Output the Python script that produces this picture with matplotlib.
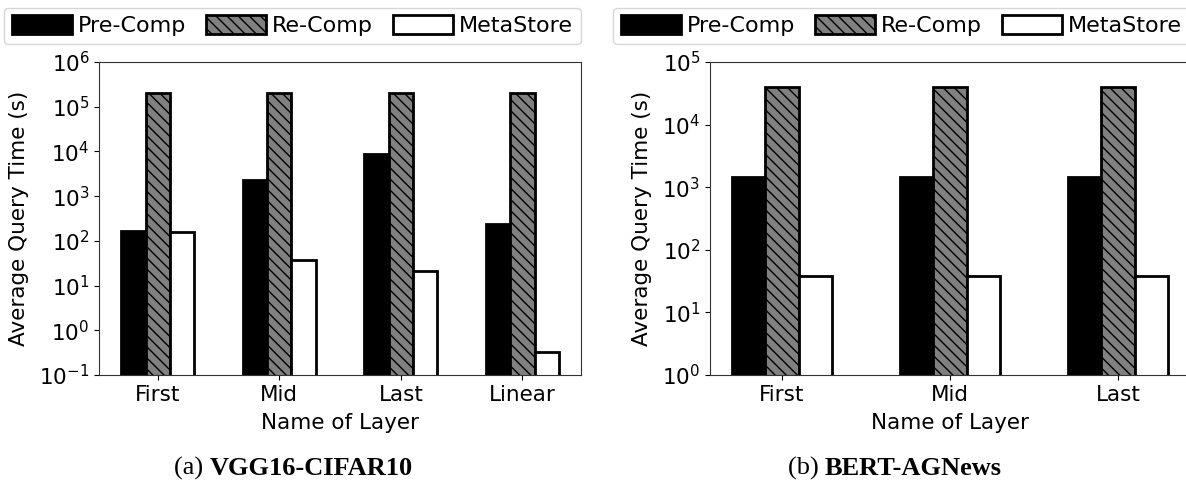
import numpy as np
import matplotlib
matplotlib.use('Agg')
import matplotlib.pyplot as plt

# VGG16-CIFAR10
vgg_layers = ['First', 'Mid', 'Last', 'Linear']
vgg_pre = [165, 2300, 8700, 235]
vgg_re = [205000, 205000, 205000, 205000]
vgg_meta = [155, 38, 21.5, 0.32]

# BERT-AGNews
bert_layers = ['First', 'Mid', 'Last']
bert_pre = [1460, 1460, 1460]
bert_re = [40000, 40000, 40000]
bert_meta = [38.5, 38.5, 38.5]

FS = 15.5
plt.rcParams['font.family'] = ['DejaVu Sans']
plt.rcParams['hatch.linewidth'] = 1.0

fig = plt.figure(figsize=(11.86, 4.87), dpi=100)
W, H = 1186.0, 487.0


def draw(ax, layers, pre, re, meta, ylim, xlim, ylab_x):
    x = np.arange(len(layers))
    w = 0.2
    ax.bar(x - w, pre, w, color='black', edgecolor='black', linewidth=2, label='Pre-Comp')
    ax.bar(x, re, w, color='#808080', edgecolor='black', linewidth=2, hatch='\\' * 3, label='Re-Comp')
    ax.bar(x + w, meta, w, color='white', edgecolor='black', linewidth=2, label='MetaStore')
    ax.set_yscale('log')
    ax.set_ylim(*ylim)
    ax.set_xlim(*xlim)
    ax.yaxis.set_minor_locator(matplotlib.ticker.NullLocator())
    ax.set_xticks(x)
    ax.set_xticklabels(layers, fontsize=FS)
    ax.tick_params(axis='y', labelsize=FS)
    for s in ax.spines.values():
        s.set_color('#333333')
    ax.set_xlabel('Name of Layer', fontsize=FS)
    ax.set_ylabel('Average Query Time (s)', fontsize=FS)
    ax.xaxis.set_label_coords(0.5, -0.121)
    ax.yaxis.set_label_coords(ylab_x, 0.5)
    ax.legend(loc='lower right', bbox_to_anchor=(1.0, 1.0575), ncol=3, fontsize=16,
              borderaxespad=0, handlelength=2.7, handleheight=0.9, handletextpad=0.27,
              columnspacing=0.9, borderpad=0.35)


# axes placed in pixel positions of the reference
ax1 = fig.add_axes([99.3 / W, 112 / H, 481.5 / W, 313 / H])
draw(ax1, vgg_layers, vgg_pre, vgg_re, vgg_meta, (0.1, 1e6), (-0.48, 3.48), -0.146)

ax2 = fig.add_axes([710 / W, 112 / H, 480 / W, 313 / H])
draw(ax2, bert_layers, bert_pre, bert_re, bert_meta, (1, 1e5), (-0.4286, 2.4286), -0.121)


def caption(xc, tag, name):
    fig.text(xc / W, 12 / H, tag + ' ', fontsize=19, family='Liberation Serif',
             ha='right', va='baseline')
    fig.text(xc / W, 12 / H, name, fontsize=19, family='Liberation Serif',
             fontweight='bold', ha='left', va='baseline')


caption(210, '(a)', 'VGG16-CIFAR10')
caption(825, '(b)', 'BERT-AGNews')

fig.savefig('out.png', dpi=100)
